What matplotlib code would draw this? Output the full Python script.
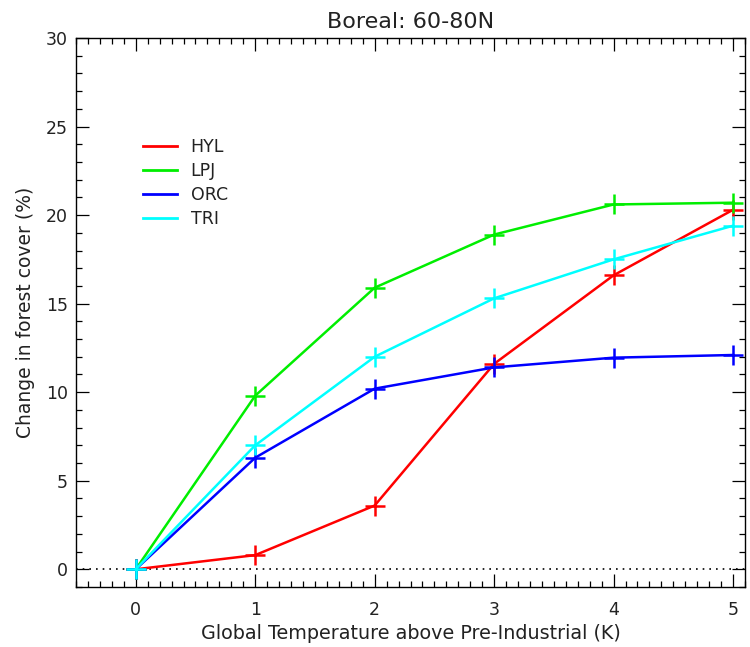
import matplotlib
matplotlib.use("Agg")
import matplotlib.pyplot as plt
from matplotlib.lines import Line2D
from matplotlib.ticker import MultipleLocator

temps = [0, 1, 2, 3, 4, 5]
models = ["HYL", "LPJ", "ORC", "TRI"]
hyl = [0.0, 0.8, 3.6, 11.6, 16.6, 20.3]
lpj = [0.0, 9.8, 15.9, 18.9, 20.6, 20.7]
orc = [0.0, 6.3, 10.2, 11.4, 11.95, 12.1]
tri = [0.0, 7.0, 12.0, 15.3, 17.5, 19.4]
colors = ["#ff0000", "#00ee00", "#0000ff", "#00ffff"]

plt.rcParams['font.family'] = ['DejaVu Sans']
fig = plt.figure(figsize=(7.5, 6.47), dpi=100)
ax = fig.add_axes([76/750, 1-587/647, (745-76)/750, (587-38)/647])

ax.axhline(0, color='black', linestyle=(0, (1, 3)), linewidth=1.2, zorder=1)

series = [hyl, lpj, orc, tri]
for vals, c in zip(series, colors):
    ax.plot(temps, vals, color=c, linewidth=1.8, marker='+', markersize=15,
            markeredgewidth=1.8, zorder=3)

ax.set_xlim(-0.5, 5.1)
ax.set_ylim(-1, 30)
ax.xaxis.set_major_locator(MultipleLocator(1))
ax.xaxis.set_minor_locator(MultipleLocator(0.1))
ax.yaxis.set_major_locator(MultipleLocator(5))
ax.yaxis.set_minor_locator(MultipleLocator(1))
ax.tick_params(which='both', direction='in', top=True, right=True, width=0.9,
               colors='black', labelcolor='#222222', labelsize=12.5)
ax.tick_params(which='major', length=9.5)
ax.tick_params(which='minor', length=4.5)
ax.tick_params(axis='x', which='major', pad=10)
ax.tick_params(axis='y', which='major', pad=6)
ax.tick_params(right=True, labelright=False, top=True, labeltop=False)
for s in ax.spines.values():
    s.set_linewidth(1.0)

ax.set_title("Boreal: 60-80N", fontsize=16, pad=7, color='#222222')
ax.set_xlabel("Global Temperature above Pre-Industrial (K)", fontsize=13.8,
              color='#222222', labelpad=4)
ax.set_ylabel("Change in forest cover (%)", fontsize=13.5, color='#222222',
              labelpad=8)

handles = [Line2D([0], [0], color=c, linewidth=2) for c in colors]
leg = ax.legend(handles, models, loc='upper left', bbox_to_anchor=(0.1, 0.817),
                frameon=False, fontsize=12.5, handlelength=1.95, handletextpad=0.8,
                labelspacing=0.33, borderpad=0, borderaxespad=0)
for t in leg.get_texts():
    t.set_color('#222222')

fig.savefig("out.png", dpi=100)
